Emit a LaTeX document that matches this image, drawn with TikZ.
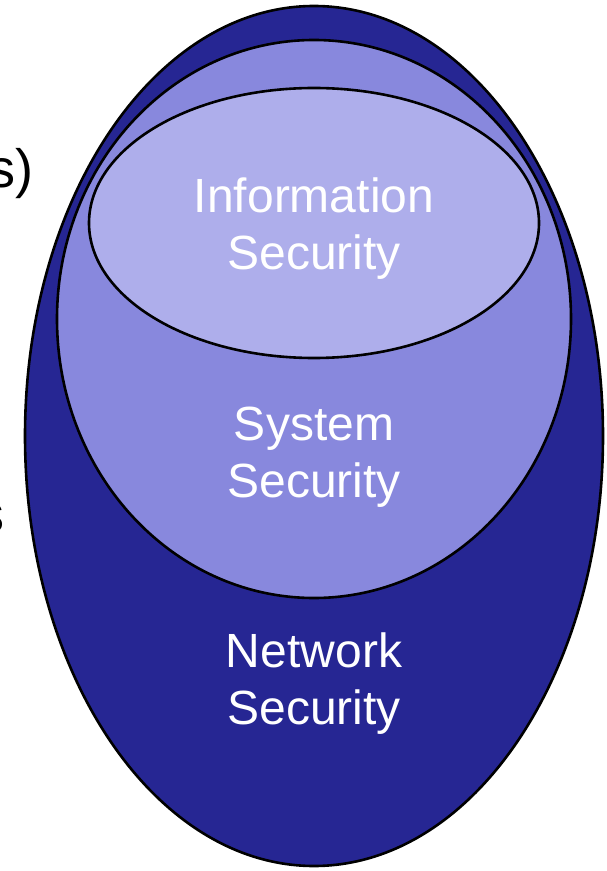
\documentclass[tikz,border=0pt]{standalone}
\usepackage{fontspec}
\setmainfont{Liberation Sans}
\definecolor{netblue}{RGB}{38,38,147}
\definecolor{sysblue}{RGB}{136,136,221}
\definecolor{infoblue}{RGB}{174,174,235}
\tikzset{
    layer/.style={draw=black, line width=1.3pt},
    label/.style={text=white, align=center, inner sep=0pt, font=\fontsize{24}{28.5}\selectfont},
    cut/.style={inner sep=0pt, font=\fontsize{27}{32}\selectfont}
}
\begin{document}
\begin{tikzpicture}[x=0.5pt, y=-0.5pt]
    \useasboundingbox (0,0) rectangle (606,871);

    % Layers, outside in
    \draw[layer, fill=netblue] (314,436) ellipse [x radius=289, y radius=430];
    \draw[layer, fill=sysblue] (314,319) ellipse [x radius=257, y radius=279];
    \draw[layer, fill=infoblue] (314,223) ellipse [x radius=225, y radius=135];

    % Labels
    \node[label] (info) at (314,229) {Information\\Security};
    \node[label] (sys) at (314,457) {System\\Security};
    \node[label] (net) at (314,684) {Network\\Security};

    % Cut-off text at the left edge
    \node[cut, anchor=base east] (cutA) at (34,188) {s)};
    \node[cut, anchor=base east] (cutB) at (5,532) {s};
\end{tikzpicture}
\end{document}
